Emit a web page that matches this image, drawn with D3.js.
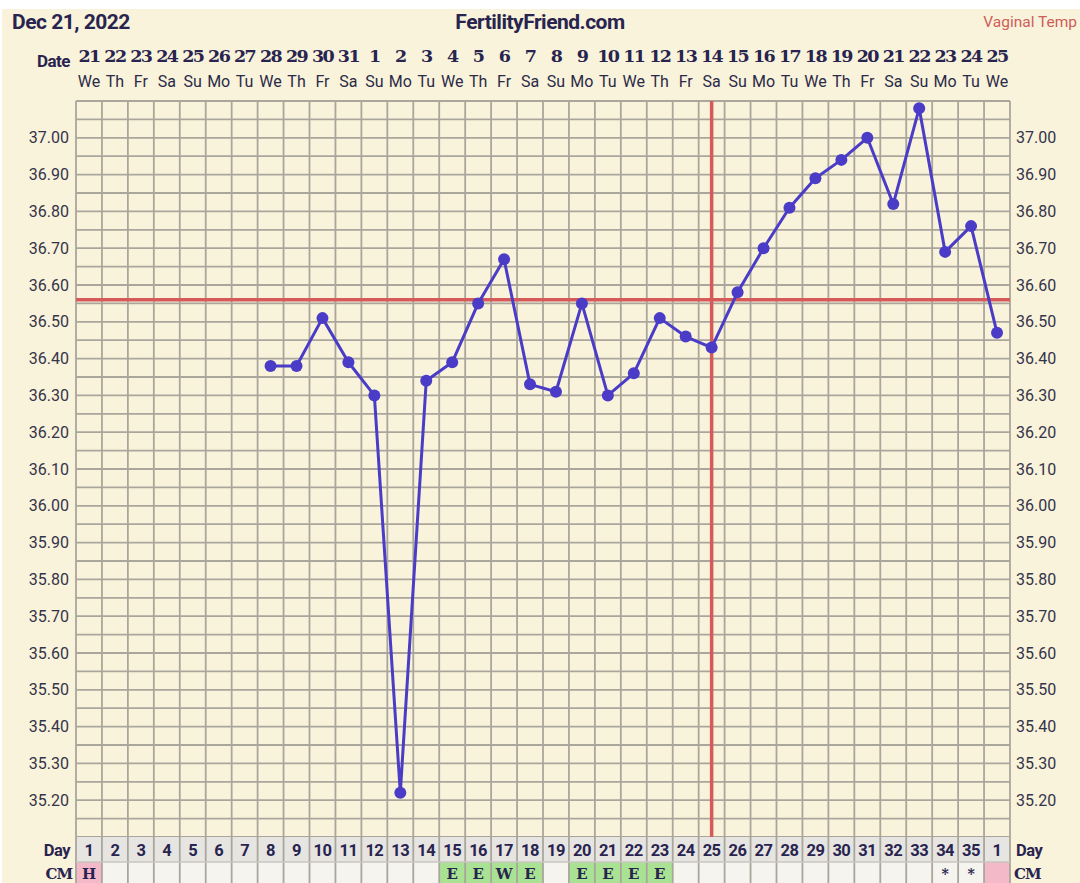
<!DOCTYPE html>
<html><head><meta charset="utf-8">
<script src="https://cdn.jsdelivr.net/npm/d3@7"></script>
<style>
html,body{margin:0;padding:0;background:#fff;}
svg{display:block;}
</style></head>
<body>
<svg id="c" width="1080" height="883"></svg>
<script>
// ---- data ----
const dates = ["21","22","23","24","25","26","27","28","29","30","31","1","2","3","4","5","6","7","8","9","10","11","12","13","14","15","16","17","18","19","20","21","22","23","24","25"];
const weekdays = ["We","Th","Fr","Sa","Su","Mo","Tu","We","Th","Fr","Sa","Su","Mo","Tu","We","Th","Fr","Sa","Su","Mo","Tu","We","Th","Fr","Sa","Su","Mo","Tu","We","Th","Fr","Sa","Su","Mo","Tu","We"];
const cycleDays = ["1","2","3","4","5","6","7","8","9","10","11","12","13","14","15","16","17","18","19","20","21","22","23","24","25","26","27","28","29","30","31","32","33","34","35","1"];
const temps = [null,null,null,null,null,null,null,36.38,36.38,36.51,36.39,36.30,35.22,36.34,36.39,36.55,36.67,36.33,36.31,36.55,36.30,36.36,36.51,36.46,36.43,36.58,36.70,36.81,36.89,36.94,37.00,36.82,37.08,36.69,36.76,36.47];
const cm = ["H","","","","","","","","","","","","","","E","E","W","E","","E","E","E","E","","","","","","","","","","","*","*",""];
const cmType = ["period","","","","","","","","","","","","","","fertile","fertile","fertile","fertile","","fertile","fertile","fertile","fertile","","","","","","","","","","","dry","dry","period"];
const yTicks = [35.20,35.30,35.40,35.50,35.60,35.70,35.80,35.90,36.00,36.10,36.20,36.30,36.40,36.50,36.60,36.70,36.80,36.90,37.00];
const coverline = 36.56;
const ovulationDay = 25;
const chartDate = "Dec 21, 2022";
const siteName = "FertilityFriend.com";
const tempType = "Vaginal Temp";

(function(){
const svg = d3.select("#c");
const W = 1080, H = 883;
const pL = 76, pR = 1010, pT = 101, pB = 837;
const navy = "#28244f";
const gridCol = "#aaa69c";

svg.append("rect").attr("x",0).attr("y",0).attr("width",W).attr("height",H).attr("fill","#ffffff");
svg.append("rect").attr("x",2).attr("y",9).attr("width",W-2).attr("height",H-9).attr("fill","#f8f3da");

const idx = d3.range(dates.length);
const x = d3.scaleBand().domain(idx).range([pL,pR]).padding(0);
const cx = i => x(i) + x.bandwidth()/2;
const y = d3.scaleLinear().domain([35.10,37.10]).range([pB,pT]);

// horizontal grid (every 0.05)
const hLines = d3.range(0,41).map(k => 35.10 + k*0.05);
svg.append("g").selectAll("line").data(hLines).join("line")
  .attr("x1",pL).attr("x2",pR)
  .attr("y1",d=>y(d)).attr("y2",d=>y(d))
  .attr("stroke",gridCol).attr("stroke-width",1.8);

// bottom rows
const dayTop = pB, dayBot = 862, cmBot = 883;
svg.append("rect").attr("x",pL).attr("y",dayTop).attr("width",pR-pL).attr("height",dayBot-dayTop).attr("fill","#e6e5e2");
svg.append("rect").attr("x",pL).attr("y",dayBot).attr("width",pR-pL).attr("height",cmBot-dayBot).attr("fill","#f5f4ee");
svg.append("g").selectAll("rect").data(idx.filter(i=>cmType[i]==="period"||cmType[i]==="fertile")).join("rect")
  .attr("x",i=>x(i)).attr("y",dayBot).attr("width",x.bandwidth()).attr("height",cmBot-dayBot)
  .attr("fill",i=>cmType[i]==="period"?"#f3b9c8":"#a9e293");

// vertical grid
svg.append("g").selectAll("line").data(d3.range(dates.length+1)).join("line")
  .attr("x1",i=>pL+i*x.bandwidth()).attr("x2",i=>pL+i*x.bandwidth())
  .attr("y1",pT).attr("y2",cmBot)
  .attr("stroke",gridCol).attr("stroke-width",1.8);
svg.append("line").attr("x1",pL).attr("x2",pR).attr("y1",dayBot).attr("y2",dayBot).attr("stroke","#c8c6c0").attr("stroke-width",1.5);

// header texts
svg.append("text").attr("x",12).attr("y",29).text(chartDate)
  .attr("font-family","Roboto").attr("font-weight","bold").attr("font-size",21).attr("fill",navy).attr("letter-spacing","-0.5");
svg.append("text").attr("x",540).attr("y",29).attr("text-anchor","middle").text(siteName)
  .attr("font-family","Roboto").attr("font-weight","bold").attr("font-size",21).attr("fill",navy).attr("letter-spacing","-0.5");
svg.append("text").attr("x",1077).attr("y",27).attr("text-anchor","end").text(tempType)
  .attr("font-family","Roboto").attr("font-size",15.5).attr("fill","#cf5d5a");
svg.append("text").attr("x",70).attr("y",67).attr("text-anchor","end").text("Date")
  .attr("font-family","Roboto").attr("font-weight","bold").attr("font-size",17).attr("fill",navy).attr("letter-spacing","-0.5");

svg.append("g").selectAll("text").data(idx).join("text")
  .attr("x",i=>cx(i)).attr("y",62).attr("text-anchor","middle").text(i=>dates[i])
  .attr("font-family","DejaVu Serif").attr("font-weight","bold").attr("font-size",17.5).attr("fill",navy)
  .attr("letter-spacing","-1.6");
svg.append("g").selectAll("text").data(idx).join("text")
  .attr("x",i=>cx(i)).attr("y",87).attr("text-anchor","middle").text(i=>weekdays[i])
  .attr("font-family","Roboto").attr("font-size",16).attr("fill","#2c2a48");

// y labels
const fmt = d3.format(".2f");
svg.append("g").selectAll("text").data(yTicks).join("text")
  .attr("x",69).attr("y",d=>y(d)+5.5).attr("text-anchor","end").text(d=>fmt(d))
  .attr("font-family","Roboto").attr("font-size",16).attr("fill","#35344a");
svg.append("g").selectAll("text").data(yTicks).join("text")
  .attr("x",1016).attr("y",d=>y(d)+5.5).attr("text-anchor","start").text(d=>fmt(d))
  .attr("font-family","Roboto").attr("font-size",16).attr("fill","#35344a");

// day row
svg.append("g").selectAll("text").data(idx).join("text")
  .attr("x",i=>cx(i)).attr("y",856).attr("text-anchor","middle").text(i=>cycleDays[i])
  .attr("font-family","Roboto").attr("font-weight","bold").attr("font-size",16.5).attr("fill",navy).attr("letter-spacing","-0.5");
svg.append("text").attr("x",70).attr("y",856).attr("text-anchor","end").text("Day")
  .attr("font-family","Roboto").attr("font-weight","bold").attr("font-size",16.5).attr("fill",navy).attr("letter-spacing","-0.5");
svg.append("text").attr("x",1016).attr("y",856).attr("text-anchor","start").text("Day")
  .attr("font-family","Roboto").attr("font-weight","bold").attr("font-size",16.5).attr("fill",navy).attr("letter-spacing","-0.5");
svg.append("text").attr("x",72).attr("y",879).attr("text-anchor","end").text("CM")
  .attr("font-family","DejaVu Serif").attr("font-weight","bold").attr("font-size",15).attr("fill",navy).attr("letter-spacing","-1");
svg.append("text").attr("x",1014).attr("y",879).attr("text-anchor","start").text("CM")
  .attr("font-family","DejaVu Serif").attr("font-weight","bold").attr("font-size",15).attr("fill",navy).attr("letter-spacing","-1");
svg.append("g").selectAll("text").data(idx.filter(i=>cm[i])).join("text")
  .attr("x",i=>cx(i)).attr("y",i=>cm[i]==="*"?879:879).attr("text-anchor","middle").text(i=>cm[i])
  .attr("font-family","DejaVu Serif").attr("font-weight","bold").attr("font-size",i=>cm[i]==="*"?14:15).attr("fill",navy);

// coverline and ovulation line
svg.append("line").attr("x1",pL).attr("x2",pR).attr("y1",y(coverline)).attr("y2",y(coverline))
  .attr("stroke","#d65a5a").attr("stroke-width",3.5);
svg.append("line").attr("x1",cx(ovulationDay-1)).attr("x2",cx(ovulationDay-1)).attr("y1",pT).attr("y2",pB)
  .attr("stroke","#d65a5a").attr("stroke-width",3.5);

// temperature line
const pts = idx.filter(i=>temps[i]!==null);
const line = d3.line().x(i=>cx(i)).y(i=>y(temps[i]));
svg.append("path").datum(pts).attr("d",line).attr("fill","none")
  .attr("stroke","#4a3cc6").attr("stroke-width",3).attr("stroke-linejoin","round");
svg.append("g").selectAll("circle").data(pts).join("circle")
  .attr("cx",i=>cx(i)).attr("cy",i=>y(temps[i])).attr("r",6).attr("fill","#4a3cc6");
})();
</script>
</body></html>
